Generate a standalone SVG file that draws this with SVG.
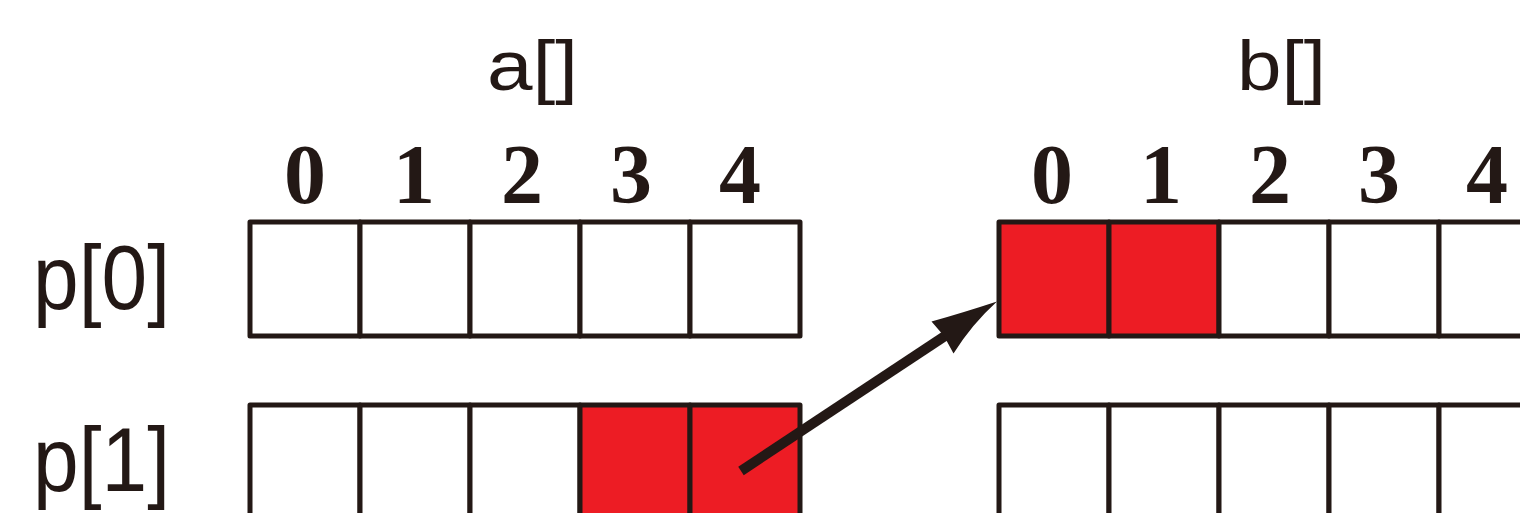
<svg xmlns="http://www.w3.org/2000/svg" width="1520" height="513" viewBox="0 0 1520 513">
  <style>
    .cell { fill: #ffffff; stroke: #231815; stroke-width: 5; stroke-linejoin: round; }
    .hot { fill: #ed1c24; }
    .name { font-family: "Liberation Sans", Arial, sans-serif; fill: #231815; }
    .idx { font-family: "Liberation Serif", "Times New Roman", serif; font-weight: bold; font-size: 84px; fill: #231815; text-anchor: middle; }
    .link { stroke: #231815; stroke-width: 10; fill: none; }
  </style>
  <rect width="1520" height="513" fill="#ffffff"/>

  <!-- array titles -->
  <text class="name" x="487" y="90" font-size="70" textLength="91" lengthAdjust="spacingAndGlyphs">a[]</text>
  <text class="name" x="1237" y="90" font-size="70" textLength="89" lengthAdjust="spacingAndGlyphs">b[]</text>

  <!-- column indices -->
  <g id="idx-a">
    <text class="idx" x="305" y="203">0</text>
    <text class="idx" x="414" y="203">1</text>
    <text class="idx" x="522" y="203">2</text>
    <text class="idx" x="631" y="203">3</text>
    <text class="idx" x="740" y="203">4</text>
  </g>
  <g id="idx-b">
    <text class="idx" x="1052" y="203">0</text>
    <text class="idx" x="1161" y="203">1</text>
    <text class="idx" x="1270" y="203">2</text>
    <text class="idx" x="1379" y="203">3</text>
    <text class="idx" x="1487" y="203">4</text>
  </g>

  <!-- row labels -->
  <text class="name" x="33" y="309" font-size="90" textLength="137" lengthAdjust="spacingAndGlyphs">p[0]</text>
  <text class="name" x="33" y="491" font-size="90" textLength="137" lengthAdjust="spacingAndGlyphs">p[1]</text>

  <!-- p[0] row of a[] -->
  <g id="a-row0">
    <rect class="cell" x="250" y="222" width="110" height="114"/>
    <rect class="cell" x="360" y="222" width="110" height="114"/>
    <rect class="cell" x="470" y="222" width="110" height="114"/>
    <rect class="cell" x="580" y="222" width="110" height="114"/>
    <rect class="cell" x="690" y="222" width="110" height="114"/>
  </g>
  <!-- p[1] row of a[] -->
  <g id="a-row1">
    <rect class="cell" x="250" y="405" width="110" height="140"/>
    <rect class="cell" x="360" y="405" width="110" height="140"/>
    <rect class="cell" x="470" y="405" width="110" height="140"/>
    <rect class="cell hot" x="580" y="405" width="110" height="140"/>
    <rect class="cell hot" x="690" y="405" width="110" height="140"/>
  </g>
  <!-- p[0] row of b[] -->
  <g id="b-row0">
    <rect class="cell hot" x="999" y="222" width="110" height="114"/>
    <rect class="cell hot" x="1109" y="222" width="110" height="114"/>
    <rect class="cell" x="1219" y="222" width="110" height="114"/>
    <rect class="cell" x="1329" y="222" width="110" height="114"/>
    <rect class="cell" x="1439" y="222" width="110" height="114"/>
  </g>
  <!-- p[1] row of b[] -->
  <g id="b-row1">
    <rect class="cell" x="999" y="405" width="110" height="140"/>
    <rect class="cell" x="1109" y="405" width="110" height="140"/>
    <rect class="cell" x="1219" y="405" width="110" height="140"/>
    <rect class="cell" x="1329" y="405" width="110" height="140"/>
    <rect class="cell" x="1439" y="405" width="110" height="140"/>
  </g>

  <!-- pointer from a[1][4] to b[0] -->
  <g id="connectors">
    <line class="link" x1="741" y1="471" x2="948" y2="334"/>
    <path d="M997,301.5 Q962,313 931.5,321.5 L944,336 L953.5,353.5 Q972,324 997,301.5 Z" fill="#231815"/>
  </g>
</svg>
